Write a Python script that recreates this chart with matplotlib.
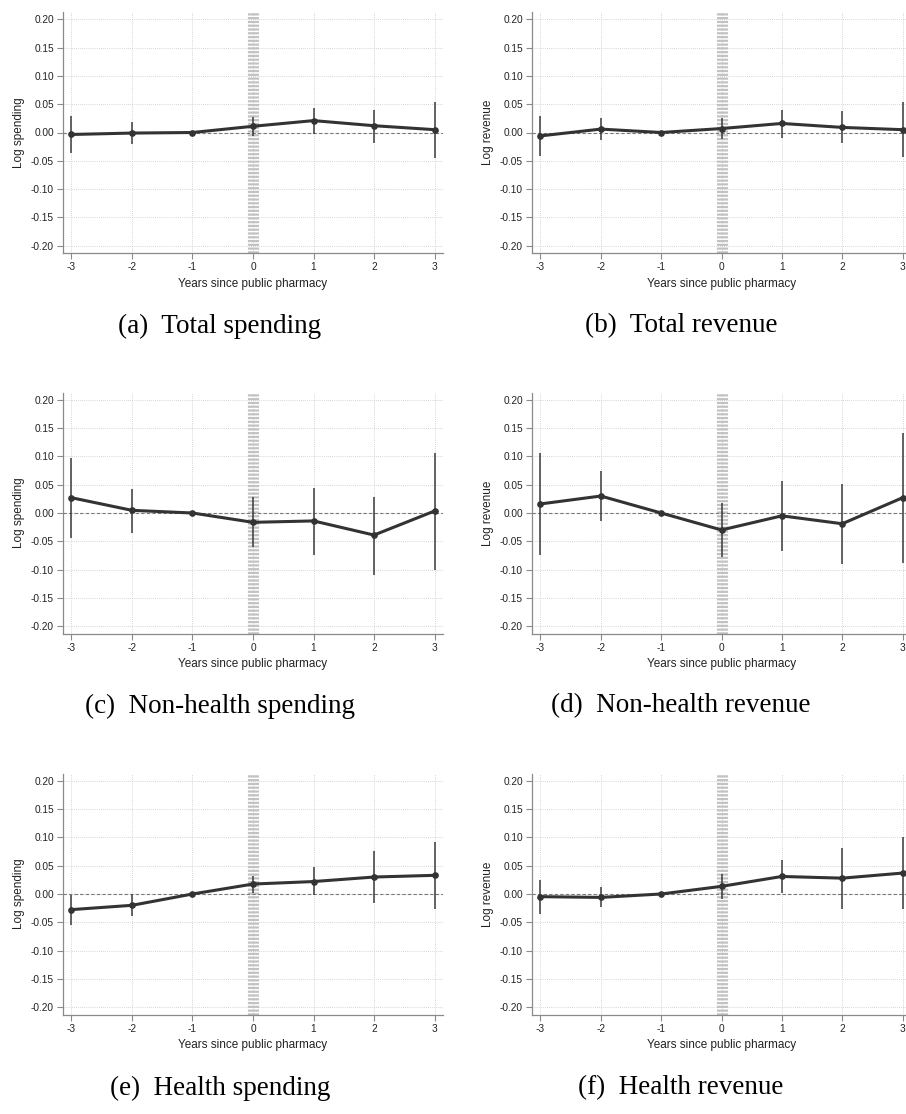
import matplotlib
matplotlib.use("Agg")
import matplotlib.pyplot as plt
from matplotlib.ticker import FormatStrFormatter

plt.rcParams["font.family"] = ["Liberation Sans", "DejaVu Sans"]
plt.rcParams["axes.unicode_minus"] = False

# Роки відносно відкриття аптеки
years = [-3, -2, -1, 0, 1, 2, 3]
y_ticks = [-0.20, -0.15, -0.10, -0.05, 0.00, 0.05, 0.10, 0.15, 0.20]

# (a) Total spending
tot_sp = [-0.0035, -0.001, 0.0, 0.011, 0.021, 0.012, 0.005]
tot_sp_lo = [-0.037, -0.021, 0.0, -0.007, -0.0035, -0.018, -0.045]
tot_sp_hi = [0.029, 0.019, 0.0, 0.028, 0.0435, 0.040, 0.054]

# (b) Total revenue
tot_rev = [-0.006, 0.006, 0.0, 0.007, 0.016, 0.009, 0.005]
tot_rev_lo = [-0.042, -0.014, 0.0, -0.012, -0.010, -0.019, -0.043]
tot_rev_hi = [0.029, 0.025, 0.0, 0.026, 0.040, 0.038, 0.054]

# (c) Non-health spending
nh_sp = [0.027, 0.0047, 0.0, -0.0165, -0.014, -0.039, 0.0035]
nh_sp_lo = [-0.044, -0.035, 0.0, -0.060, -0.0735, -0.109, -0.101]
nh_sp_hi = [0.0976, 0.042, 0.0, 0.0276, 0.0435, 0.029, 0.106]

# (d) Non-health revenue
nh_rev = [0.016, 0.030, 0.0, -0.030, -0.005, -0.019, 0.027]
nh_rev_lo = [-0.075, -0.014, 0.0, -0.078, -0.068, -0.090, -0.088]
nh_rev_hi = [0.106, 0.074, 0.0, 0.0176, 0.056, 0.052, 0.142]

# (e) Health spending
h_sp = [-0.0276, -0.020, 0.0, 0.0176, 0.022, 0.030, 0.033]
h_sp_lo = [-0.054, -0.039, 0.0, 0.002, -0.002, -0.0165, -0.027]
h_sp_hi = [-0.001, 0.0, 0.0, 0.032, 0.047, 0.076, 0.092]

# (f) Health revenue
h_rev = [-0.0047, -0.006, 0.0, 0.0135, 0.031, 0.028, 0.037]
h_rev_lo = [-0.035, -0.0235, 0.0, -0.009, 0.002, -0.026, -0.027]
h_rev_hi = [0.025, 0.012, 0.0, 0.035, 0.060, 0.082, 0.100]

panels = [
    ("(a)  Total spending", "Log spending", tot_sp, tot_sp_lo, tot_sp_hi),
    ("(b)  Total revenue", "Log revenue", tot_rev, tot_rev_lo, tot_rev_hi),
    ("(c)  Non-health spending", "Log spending", nh_sp, nh_sp_lo, nh_sp_hi),
    ("(d)  Non-health revenue", "Log revenue", nh_rev, nh_rev_lo, nh_rev_hi),
    ("(e)  Health spending", "Log spending", h_sp, h_sp_lo, h_sp_hi),
    ("(f)  Health revenue", "Log revenue", h_rev, h_rev_lo, h_rev_hi),
]

W, H = 906, 1114
fig = plt.figure(figsize=(W / 100, H / 100), dpi=100)

# Положення осей у пікселях: (ліво, верх, ширина, висота)
col_left = [63, 532]
col_width = [380, 379]
row_top = [12, 392.5, 773.5]
row_height = 241
cap_y = [326, 706, 1088]
cap_x = [220, 681]

for i, (caption, ylab, est, lo, hi) in enumerate(panels):
    r, c = divmod(i, 2)
    ax = fig.add_axes([col_left[c] / W, 1 - (row_top[r] + row_height) / H,
                       col_width[c] / W, row_height / H])
    ax.set_xlim(-3.14, 3.14)
    ax.set_ylim(-0.213, 0.213)
    ax.set_xticks(years)
    ax.set_yticks(y_ticks)
    ax.yaxis.set_major_formatter(FormatStrFormatter("%.2f"))
    ax.grid(True, color="#c8c8c8", linestyle=(0, (1, 1.5)), linewidth=0.6)
    ax.set_axisbelow(True)
    for s in ["top", "right"]:
        ax.spines[s].set_visible(False)
    for s in ["left", "bottom"]:
        ax.spines[s].set_color("#8a8a8a")
        ax.spines[s].set_linewidth(0.9)
    ax.tick_params(axis="both", direction="out", length=4, width=0.8,
                   color="#8a8a8a", labelsize=7.3, labelcolor="#222222", pad=2.5)

    # Лінія події та нульова лінія
    ax.axvline(0, color="#c2c2c2", linewidth=8, linestyle=(0, (0.2, 0.14)),
               dash_capstyle="butt", zorder=1)
    ax.axhline(0, color="#777777", linewidth=0.8, linestyle=(0, (3, 2)), zorder=2)

    # Довірчі інтервали та оцінки
    ax.vlines(years, lo, hi, color="#3a3a3a", linewidth=1.1, zorder=3)
    ax.plot(years, est, color="#333333", linewidth=2.2, marker="o",
            markersize=3.8, zorder=4)

    ax.set_xlabel("Years since public pharmacy", fontsize=8.5, color="#222222",
                  labelpad=4)
    ax.set_ylabel(ylab, fontsize=8.5, color="#222222", labelpad=4)

    fig.text(cap_x[c] / W, 1 - cap_y[r] / H, caption, ha="center", va="center",
             fontsize=19.5, family=["Liberation Serif", "DejaVu Serif"])

fig.savefig("out.png", dpi=100, facecolor="white")
